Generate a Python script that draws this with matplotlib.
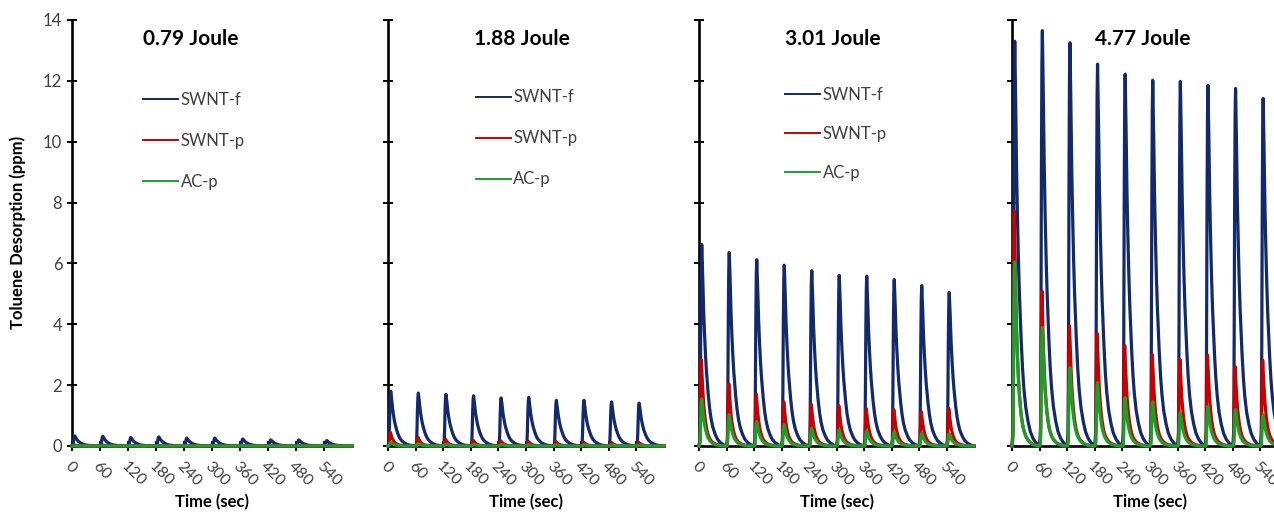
import matplotlib
matplotlib.use("Agg")
import matplotlib.pyplot as plt
import numpy as np

plt.rcParams["font.family"] = ["Lato", "DejaVu Sans"]

# ---- data -------------------------------------------------------------
energy_labels = ["0.79 Joule", "1.88 Joule", "3.01 Joule", "4.77 Joule"]
series_names = ["SWNT-f", "SWNT-p", "AC-p"]
pulse_times = [0, 60, 120, 180, 240, 300, 360, 420, 480, 540]
tick_times = [0, 60, 120, 180, 240, 300, 360, 420, 480, 540]
ppm_ticks = [0, 2, 4, 6, 8, 10, 12, 14]

# peak desorption (ppm) of each of the ten heating pulses, per energy
swnt_f_peaks = [
    [0.33, 0.32, 0.28, 0.30, 0.26, 0.26, 0.23, 0.20, 0.20, 0.18],
    [1.80, 1.74, 1.70, 1.65, 1.58, 1.60, 1.50, 1.50, 1.45, 1.41],
    [6.62, 6.36, 6.12, 5.94, 5.76, 5.61, 5.58, 5.47, 5.27, 5.05],
    [13.30, 13.65, 13.25, 12.55, 12.22, 12.02, 11.98, 11.85, 11.75, 11.42],
]
swnt_p_peaks = [
    [0.03, 0.03, 0.02, 0.02, 0.02, 0.02, 0.02, 0.02, 0.02, 0.02],
    [0.45, 0.29, 0.22, 0.19, 0.17, 0.15, 0.15, 0.13, 0.12, 0.12],
    [2.84, 2.05, 1.70, 1.45, 1.37, 1.33, 1.23, 1.20, 1.13, 1.23],
    [7.72, 5.09, 3.95, 3.70, 3.30, 3.00, 2.85, 2.99, 2.61, 2.82],
]
ac_p_peaks = [
    [0.01, 0.01, 0.01, 0.01, 0.01, 0.01, 0.01, 0.01, 0.01, 0.01],
    [0.12, 0.08, 0.06, 0.05, 0.05, 0.04, 0.04, 0.04, 0.03, 0.03],
    [1.55, 1.03, 0.80, 0.70, 0.58, 0.53, 0.50, 0.47, 0.42, 0.40],
    [6.05, 3.90, 2.58, 2.09, 1.59, 1.45, 1.10, 1.30, 1.20, 1.03],
]

# shape of a single desorption pulse: seconds after the heating pulse and
# the fraction of that pulse's peak reached at that moment
pulse_offsets = [0, 2, 3, 4, 5, 6, 7, 8, 9, 10, 12, 14, 16, 18, 20, 23, 26,
                 30, 35, 40, 46, 52, 58]
swnt_f_shape = [0, 0.04, 0.30, 0.68, 0.92, 1.00, 0.93, 0.85, 0.76, 0.68, 0.56,
                0.46, 0.38, 0.32, 0.26, 0.19, 0.14, 0.095, 0.06, 0.035,
                0.018, 0.008, 0]
swnt_p_shape = [0, 0.05, 0.40, 0.82, 1.00, 0.90, 0.78, 0.67, 0.58, 0.50, 0.38,
                0.29, 0.22, 0.17, 0.13, 0.09, 0.065, 0.042, 0.025, 0.014,
                0.007, 0.003, 0]
ac_p_shape = [0, 0.03, 0.30, 0.70, 0.93, 1.00, 0.90, 0.79, 0.69, 0.60, 0.46,
              0.36, 0.28, 0.22, 0.17, 0.12, 0.085, 0.055, 0.032, 0.018,
              0.008, 0.003, 0]

colors = ["#12296b", "#c90000", "#1c9e2c"]


def pulse_train(peaks, shape):
    """Concatenate one scaled pulse per heating cycle into a time series."""
    t_parts, y_parts = [], []
    for start, peak in zip(pulse_times, peaks):
        t_parts.append(start + np.asarray(pulse_offsets, float))
        y_parts.append(peak * np.asarray(shape, float))
    t = np.concatenate(t_parts + [np.array([600.0])])
    y = np.concatenate(y_parts + [np.array([0.0])])
    return t, y


# ---- figure -----------------------------------------------------------
W, H = 1274, 512
fig = plt.figure(figsize=(W / 100, H / 100), dpi=100)

axis_left_px = [72, 388, 699, 1012]
axis_width_px = [280, 276, 275, 276]
bottom_px, top_px = 446, 20
title_x = [0.425, 0.486, 0.487, 0.475]
legend_anchor = [(0.254, 0.832), (0.318, 0.837), (0.313, 0.842)]
legend_spacing = [1.5, 1.5, 1.38]

label_color = "#404040"

for i in range(4):
    ax = fig.add_axes([axis_left_px[i] / W, (H - bottom_px) / H,
                       axis_width_px[i] / W, (bottom_px - top_px) / H])
    handles = []
    for peaks, shape, c, name in zip(
            (swnt_f_peaks[i], swnt_p_peaks[i], ac_p_peaks[i]),
            (swnt_f_shape, swnt_p_shape, ac_p_shape), colors, series_names):
        t, y = pulse_train(peaks, shape)
        ln, = ax.plot(t, y, color=c, lw=2.3, zorder=3, clip_on=False,
                      label=name, solid_joinstyle="round")
        handles.append(ln)

    ax.set_xlim(0, 600)
    ax.set_ylim(0, 14)
    for s in ("top", "right"):
        ax.spines[s].set_visible(False)
    for s in ("left", "bottom"):
        ax.spines[s].set_linewidth(1.9)
        ax.spines[s].set_color("black")

    ax.set_yticks(ppm_ticks)
    ax.set_xticks(tick_times)
    ax.tick_params(direction="inout", length=7, width=1.4, color="black",
                   labelsize=12, labelcolor=label_color)
    ax.tick_params(axis="x", pad=6)
    if i == 0:
        ax.set_yticklabels([str(v) for v in ppm_ticks])
    else:
        ax.set_yticklabels([])
    ax.set_xticklabels([str(v) for v in tick_times], rotation=-45,
                       ha="left", va="top", rotation_mode="anchor",
                       fontsize=11.5)

    ax.text(title_x[i], 0.955, energy_labels[i], transform=ax.transAxes,
            ha="center", va="center", fontsize=15, fontweight="bold")
    ax.text(0.5, -0.132, "Time (sec)", transform=ax.transAxes,
            ha="center", va="center", fontsize=12, fontweight="bold")

    if i < 3:
        leg = ax.legend(handles=handles, loc="upper left",
                        bbox_to_anchor=legend_anchor[i], frameon=False,
                        fontsize=12, handlelength=2.1, handletextpad=0.15,
                        labelspacing=legend_spacing[i], borderpad=0,
                        borderaxespad=0)
        for t in leg.get_texts():
            t.set_color(label_color)
        for ln in leg.get_lines():
            ln.set_linewidth(1.4)

fig.text(18 / W, 1 - 232 / H, "Toluene Desorption (ppm)", rotation=90,
         ha="center", va="center", fontsize=12, fontweight="bold")

fig.savefig("out.png", dpi=100)
